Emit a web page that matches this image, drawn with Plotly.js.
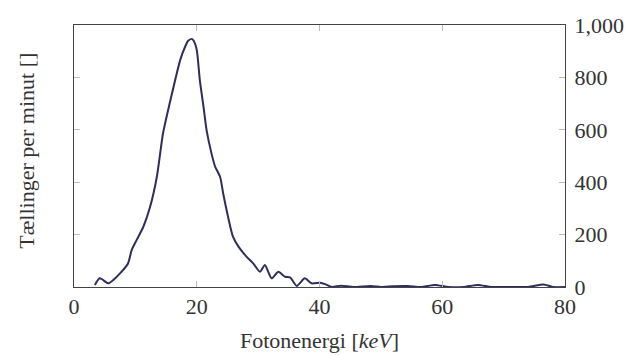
<!DOCTYPE html>
<html>
<head>
<meta charset="utf-8">
<script src="https://cdn.plot.ly/plotly-3.0.1.min.js"></script>
<style>html,body{margin:0;padding:0;background:#fff;}#chart{width:632px;height:355px;}</style>
</head>
<body>
<div id="chart"></div>
<script>
// Photon energy [keV]
const energy = [3.4, 4.2, 5.6, 6.4, 7.5, 8.8, 9.4, 10.2, 11.3, 12.4, 13.5, 14.5, 15.6, 17.3, 18.1, 18.6, 19.2, 19.5, 20.0, 20.5, 21.1, 21.6, 22.4, 23.0, 23.8, 24.3, 25.1, 25.9, 26.8, 28.1, 29.2, 30.3, 31.1, 32.2, 33.3, 34.4, 35.2, 36.3, 37.6, 38.7, 40.1, 40.9, 42.0, 43.5, 45.5, 48.4, 50.0, 52.0, 54.4, 56.5, 58.8, 61.0, 63.5, 65.8, 68.0, 71.0, 74.0, 76.5, 78.0, 80.0];
// Counts per minute
const counts = [8, 33, 14, 27, 52, 90, 141, 179, 230, 306, 421, 586, 702, 866, 917, 940, 947, 940, 905, 790, 688, 599, 510, 459, 421, 358, 268, 192, 154, 116, 90, 58, 84, 33, 58, 39, 37, 4, 33, 14, 16, 11, 0, 5, 0, 4, 0, 3, 4, 0, 8, 0, 0, 8, 0, 0, 0, 10, 0, 0];
const xTicks = [0, 20, 40, 60, 80];
const yTicks = [0, 200, 400, 600, 800, 1000];

const serif = "Liberation Serif, DejaVu Serif, serif";
const trace = {
  x: energy, y: counts, type: 'scatter', mode: 'lines',
  line: {color: '#2e2d5c', width: 2, shape: 'spline', smoothing: 0.6},
  hoverinfo: 'skip'
};
const layout = {
  width: 632, height: 355,
  margin: {l: 74, r: 67, t: 25, b: 68},
  paper_bgcolor: '#fff', plot_bgcolor: '#fff',
  showlegend: false,
  font: {family: serif, size: 22, color: '#333'},
  xaxis: {
    range: [0, 80], tickvals: xTicks, ticktext: xTicks.map(String),
    ticks: 'inside', ticklen: 6, tickcolor: '#bbb', tickwidth: 1,
    showline: true, linecolor: '#444', linewidth: 1, mirror: 'ticks',
    showgrid: false, zeroline: false,
    tickfont: {family: serif, size: 22, color: '#333'},
    title: {text: 'Fotonenergi [<i>keV</i>]', font: {family: serif, size: 22, color: '#333'}, standoff: 14}
  },
  yaxis: {
    range: [0, 1000], side: 'right', tickvals: yTicks, tickformat: ',',
    ticks: 'inside', ticklen: 6, tickcolor: '#bbb', tickwidth: 1,
    showline: true, linecolor: '#444', linewidth: 1, mirror: 'ticks',
    showgrid: false, zeroline: false, ticklabelstandoff: 4,
    tickfont: {family: serif, size: 22, color: '#333'}
  },
  annotations: [{
    text: 'Tællinger per minut []', textangle: -90,
    xref: 'paper', yref: 'paper', x: 0, y: 0.52,
    xanchor: 'center', yanchor: 'middle', xshift: -47,
    showarrow: false, font: {family: serif, size: 22, color: '#333'}
  }]
};
Plotly.newPlot('chart', [trace], layout, {staticPlot: true, displayModeBar: false});
</script>
</body>
</html>
